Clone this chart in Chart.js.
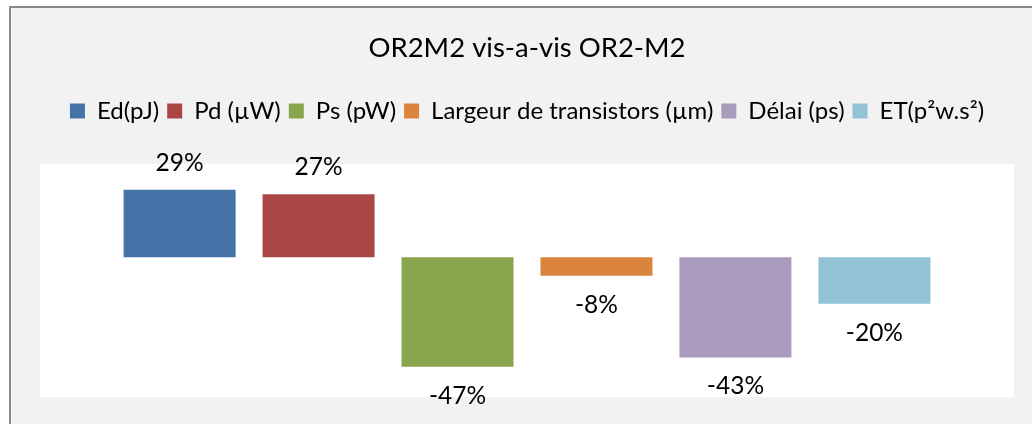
<!DOCTYPE html>
<html>
<head>
<meta charset="utf-8">
<script src="https://cdn.jsdelivr.net/npm/chart.js@4"></script>
<style>
  html, body { margin: 0; padding: 0; background: #fff; overflow: hidden; }
  .frame {
    position: absolute; left: 9px; top: 6px; width: 1100px; height: 500px;
    background: #f2f2f2; border-left: 2px solid #898989; border-top: 2px solid #898989;
  }
  .frame canvas { position: absolute; left: 0; top: 0; }
</style>
</head>
<body>
<div class="frame">
  <canvas id="myChart" width="1032" height="416"></canvas>
</div>
<script>
const chartTitle = "OR2M2 vis-a-vis OR2-M2";
const seriesNames = ["Ed(pJ)", "Pd (µW)", "Ps (pW)", "Largeur de transistors (µm)", "Délai (ps)", "ET(p²w.s²)"];
const seriesValues = [29, 27, -47, -8, -43, -20];
const seriesColors = ["#4572a7", "#aa4643", "#89a54e", "#db843d", "#a99bbd", "#92c3d5"];
const categories = [""];

const fontFamily = "Lato, 'Open Sans', sans-serif";

// white plot background behind the bars
const plotBackground = {
  id: "plotBackground",
  beforeDraw: (chart) => {
    const { ctx, chartArea } = chart;
    ctx.save();
    ctx.fillStyle = "#ffffff";
    ctx.fillRect(chartArea.left, chartArea.top, chartArea.right - chartArea.left, chartArea.bottom - chartArea.top);
    ctx.restore();
  },
};

// extra room between the legend and the bars
const legendGap = {
  id: "legendGap",
  afterInit: (chart) => {
    const fit = chart.legend.fit;
    chart.legend.fit = function () {
      fit.bind(chart.legend)();
      this.height += 31;
    };
  },
};

// percentage labels outside the end of each bar
const valueLabels = {
  id: "valueLabels",
  afterDatasetsDraw: (chart) => {
    const ctx = chart.ctx;
    ctx.save();
    ctx.font = "24.5px " + fontFamily;
    ctx.fillStyle = "#000";
    ctx.textAlign = "center";
    ctx.textBaseline = "alphabetic";
    chart.data.datasets.forEach((ds, i) => {
      const bar = chart.getDatasetMeta(i).data[0];
      const v = ds.data[0];
      const y = v >= 0 ? bar.y - 19 : bar.y + 37;
      ctx.fillText(v + "%", bar.x, y);
    });
    ctx.restore();
  },
};

const ctx = document.getElementById("myChart").getContext("2d");
const myChart = new Chart(ctx, {
  type: "bar",
  data: {
    labels: categories,
    datasets: seriesNames.map((name, i) => ({
      label: name,
      data: [seriesValues[i]],
      backgroundColor: seriesColors[i],
      borderWidth: 0,
    })),
  },
  options: {
    responsive: false,
    animation: false,
    categoryPercentage: 0.856,
    barPercentage: 0.806,
    layout: { padding: { left: 29, right: 29, top: 10, bottom: 27 } },
    scales: {
      x: { display: false },
      y: { display: false, min: -60, max: 40 },
    },
    plugins: {
      title: {
        display: true,
        text: chartTitle,
        color: "#000",
        font: { family: fontFamily, size: 27.5, weight: "normal" },
        padding: { top: 14, bottom: 26 },
      },
      legend: {
        display: true,
        labels: {
          color: "#000",
          font: { family: fontFamily, size: 24 },
          boxWidth: 15,
          boxHeight: 15,
          padding: 8,
        },
      },
      tooltip: { enabled: false },
    },
  },
  plugins: [plotBackground, legendGap, valueLabels],
});
</script>
</body>
</html>
